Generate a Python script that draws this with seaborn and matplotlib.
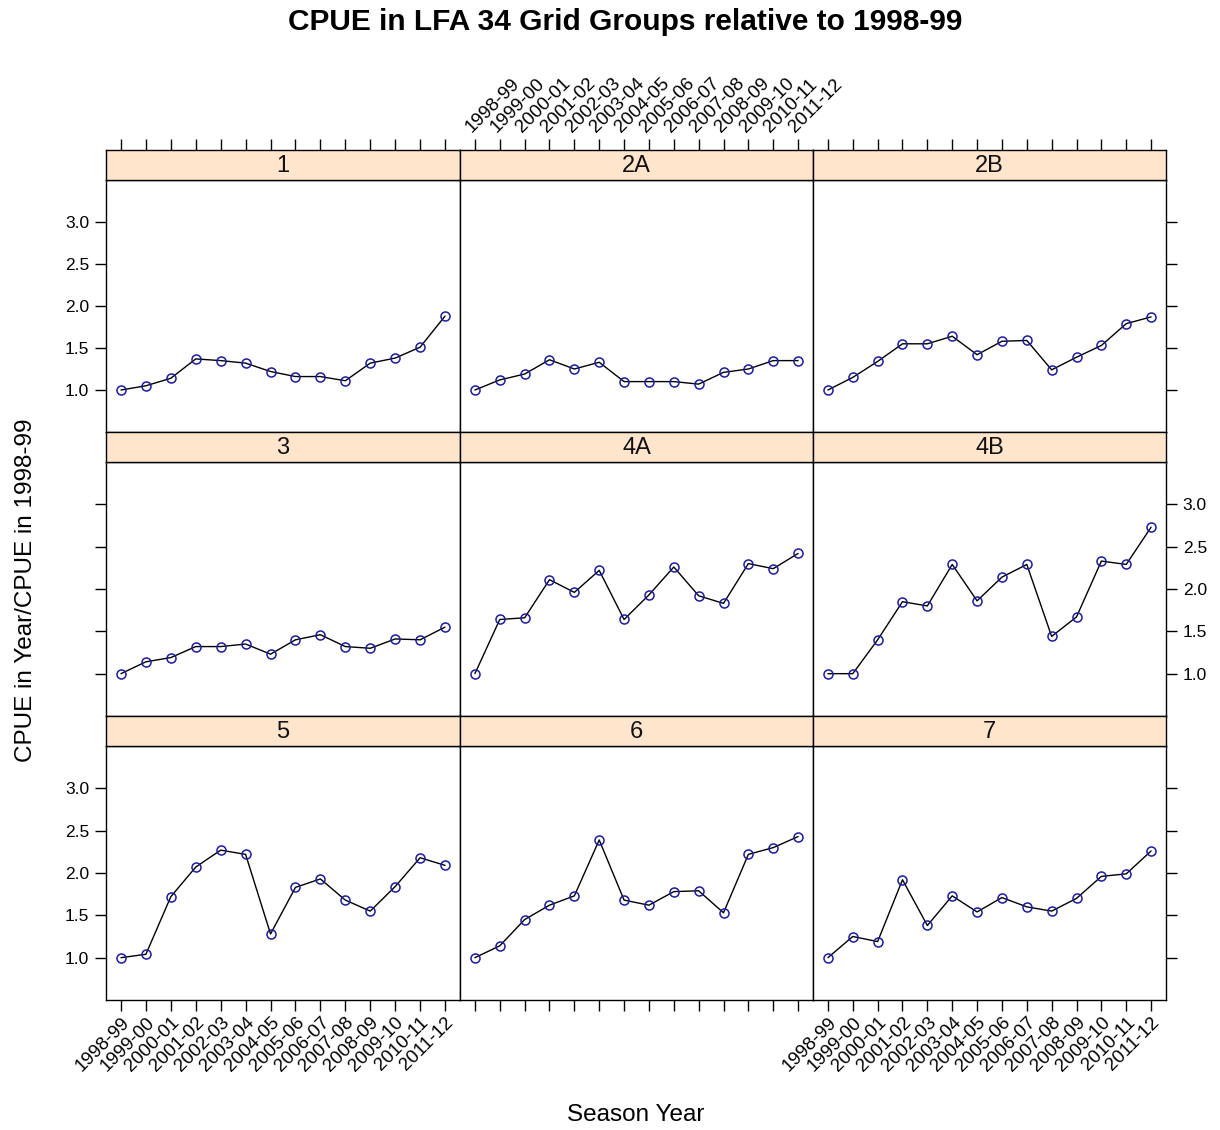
import numpy as np
import pandas as pd
import matplotlib
matplotlib.use("Agg")
import matplotlib.pyplot as plt
import seaborn as sns

# ---------------- data ----------------
seasons = ["1998-99", "1999-00", "2000-01", "2001-02", "2002-03", "2003-04", "2004-05",
           "2005-06", "2006-07", "2007-08", "2008-09", "2009-10", "2010-11", "2011-12"]
groups = ["1", "2A", "2B", "3", "4A", "4B", "5", "6", "7"]

g_1  = [1.00, 1.05, 1.14, 1.37, 1.35, 1.32, 1.22, 1.16, 1.16, 1.11, 1.32, 1.38, 1.51, 1.88]
g_2A = [1.00, 1.12, 1.19, 1.36, 1.25, 1.33, 1.10, 1.10, 1.10, 1.07, 1.21, 1.25, 1.35, 1.35]
g_2B = [1.00, 1.15, 1.34, 1.55, 1.55, 1.64, 1.42, 1.58, 1.59, 1.24, 1.39, 1.53, 1.79, 1.87]
g_3  = [1.00, 1.14, 1.19, 1.32, 1.32, 1.35, 1.23, 1.40, 1.46, 1.32, 1.30, 1.41, 1.40, 1.55]
g_4A = [1.00, 1.64, 1.66, 2.11, 1.96, 2.22, 1.64, 1.93, 2.26, 1.92, 1.83, 2.30, 2.24, 2.42]
g_4B = [1.00, 1.00, 1.40, 1.85, 1.80, 2.29, 1.86, 2.14, 2.29, 1.44, 1.67, 2.33, 2.29, 2.73]
g_5  = [1.00, 1.04, 1.72, 2.07, 2.27, 2.22, 1.28, 1.83, 1.93, 1.68, 1.55, 1.84, 2.18, 2.09]
g_6  = [1.00, 1.14, 1.45, 1.62, 1.73, 2.39, 1.68, 1.62, 1.78, 1.79, 1.53, 2.22, 2.30, 2.43]
g_7  = [1.00, 1.25, 1.19, 1.92, 1.38, 1.73, 1.54, 1.71, 1.60, 1.55, 1.70, 1.96, 1.99, 2.26]

values = [g_1, g_2A, g_2B, g_3, g_4A, g_4B, g_5, g_6, g_7]
y_ticks = [1.0, 1.5, 2.0, 2.5, 3.0]
y_ticklabels = ["1.0", "1.5", "2.0", "2.5", "3.0"]

df = pd.DataFrame({
    "group": np.repeat(groups, len(seasons)),
    "idx": np.tile(np.arange(len(seasons)), len(groups)),
    "ratio": np.concatenate(values),
})

# ---------------- style ----------------
sns.set_theme(style="white")
plt.rcParams['font.family'] = ['Liberation Sans', 'DejaVu Sans']
plt.rcParams['text.color'] = 'black'
plt.rcParams['xtick.color'] = 'black'
plt.rcParams['ytick.color'] = 'black'
plt.rcParams['xtick.labelcolor'] = 'black'
plt.rcParams['ytick.labelcolor'] = 'black'

W, H = 1220, 1130
fig = plt.figure(figsize=(W / 100, H / 100), dpi=100)

col_x = [106, 460, 813, 1166]
strip_top = [150, 432, 716]
plot_top = [180, 462, 746]
plot_bot = [432, 716, 1000]


def rect(x0, y0, x1, y1):
    return [x0 / W, 1 - y1 / H, (x1 - x0) / W, (y1 - y0) / H]


strip_col = "#FFE5CC"
pt_col = "#1c1c9c"
xlim = (-0.6, 13.6)
ylim = (0.5, 3.5)
xtick_fs = 13.5
ytick_fs = 12.5

for i, g in enumerate(groups):
    r, c = divmod(i, 3)
    ax = fig.add_axes(rect(col_x[c], plot_top[r], col_x[c + 1], plot_bot[r]))
    sub = df[df["group"] == g]
    sns.lineplot(data=sub, x="idx", y="ratio", ax=ax, color="black", lw=1.0,
                 marker="o", markersize=6.5, markerfacecolor="none",
                 markeredgecolor=pt_col, markeredgewidth=1.1)
    ax.set_xlim(*xlim)
    ax.set_ylim(*ylim)
    ax.set_xlabel("")
    ax.set_ylabel("")
    ax.set_facecolor("white")
    for sp in ax.spines.values():
        sp.set_color("black")
        sp.set_linewidth(1.0)
        sp.set_visible(True)

    ax.set_xticks(range(len(seasons)))
    if r == 2:
        ax.tick_params(axis="x", bottom=True, top=False, direction="out", length=8,
                       width=1, color="black", labelsize=xtick_fs, pad=2)
        if c in (0, 2):
            ax.set_xticklabels(seasons, rotation=45, ha="right", va="top",
                               rotation_mode="anchor")
        else:
            ax.set_xticklabels([])
    else:
        ax.tick_params(axis="x", bottom=False, top=False, labelbottom=False)

    ax.set_yticks(y_ticks)
    ax.set_yticklabels(y_ticklabels)
    ax.tick_params(axis="y", left=(c == 0), right=(c == 2),
                   labelleft=(c == 0 and r != 1), labelright=(c == 2 and r == 1),
                   direction="out", length=8, width=1, color="black",
                   labelsize=ytick_fs, pad=4)

    # strip
    sax = fig.add_axes(rect(col_x[c], strip_top[r], col_x[c + 1], plot_top[r]))
    sax.set_facecolor(strip_col)
    sax.set_xlim(*xlim)
    sax.set_ylim(0, 1)
    sax.set_yticks([])
    for sp in sax.spines.values():
        sp.set_color("black")
        sp.set_linewidth(1.0)
        sp.set_visible(True)
    sax.text(0.5, 0.45, g, transform=sax.transAxes, ha="center", va="center",
             fontsize=17, color="#111111")
    if r == 0:
        sax.set_xticks(range(len(seasons)))
        sax.xaxis.set_ticks_position("top")
        sax.tick_params(axis="x", top=True, bottom=False, direction="out", length=8,
                        width=1, color="black", labelsize=xtick_fs, pad=2,
                        labeltop=(c == 1), labelbottom=False)
        if c == 1:
            sax.set_xticklabels(seasons, rotation=45, ha="left", va="bottom",
                                rotation_mode="anchor")
        else:
            sax.set_xticklabels([])
    else:
        sax.set_xticks([])

fig.text(625 / W, 1 - 22 / H, "CPUE in LFA 34 Grid Groups relative to 1998-99",
         ha="center", va="center", fontsize=21.5, fontweight="bold")
fig.text(636 / W, 1 - 1115 / H, "Season Year", ha="center", va="center", fontsize=17.5)
fig.text(26 / W, 1 - 590 / H, "CPUE in Year/CPUE in 1998-99", ha="center", va="center",
         rotation=90, fontsize=17.5)

fig.savefig("out.png", dpi=100, facecolor="white")
